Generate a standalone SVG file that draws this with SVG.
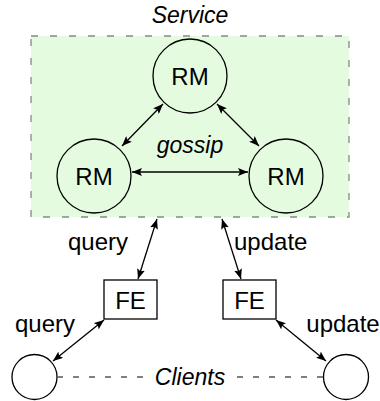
<svg xmlns="http://www.w3.org/2000/svg" width="380" height="401" viewBox="0 0 380 401">
<defs>
<marker id="ah" viewBox="0 0 10 8" refX="10" refY="4" markerWidth="10" markerHeight="8" markerUnits="userSpaceOnUse" orient="auto-start-reverse">
<path d="M0,0 L10,4 L0,8 L2,4 Z" fill="#000"/>
</marker>
</defs>
<style>
text{font-family:"Liberation Sans","DejaVu Sans",sans-serif;font-size:24px;fill:#000}
.it{font-style:italic;font-size:23px}
.n{fill:none;stroke:#000;stroke-width:1.3}
.c{stroke:#000;stroke-width:1.3;fill:none;marker-start:url(#ah);marker-end:url(#ah)}
.d{stroke:#555;stroke-width:1.3;stroke-dasharray:6,10}
</style>
<g id="service">
<rect x="31" y="36" width="318" height="181" fill="#e5fbe0" stroke="#888" stroke-width="1.3" stroke-dasharray="7,12"/>
<text class="it" x="190" y="23" text-anchor="middle">Service</text>
</g>
<g id="rm-top"><circle class="n" cx="190" cy="76" r="37"/><text x="190" y="84.5" text-anchor="middle">RM</text></g>
<g id="rm-left"><circle class="n" cx="94" cy="176" r="37"/><text x="94" y="184.5" text-anchor="middle">RM</text></g>
<g id="rm-right"><circle class="n" cx="286" cy="176" r="37"/><text x="286" y="184.5" text-anchor="middle">RM</text></g>
<g id="fe-left"><rect class="n" x="104" y="280" width="53" height="39"/><text x="130.5" y="308.5" text-anchor="middle">FE</text></g>
<g id="fe-right"><rect class="n" x="223" y="280" width="53" height="39"/><text x="249.5" y="308.5" text-anchor="middle">FE</text></g>
<g id="client-left"><circle class="n" cx="34.5" cy="377" r="22.5"/></g>
<g id="client-right"><circle class="n" cx="346" cy="377" r="22.5"/></g>
<g id="connectors">
<line class="c" x1="163" y1="104" x2="122" y2="146"/>
<line class="c" x1="217" y1="104" x2="259" y2="146"/>
<line class="c" x1="132" y1="172" x2="248" y2="172"/>
<line class="c" x1="157" y1="219" x2="138" y2="279"/>
<line class="c" x1="222" y1="219" x2="241" y2="279"/>
<line class="c" x1="104" y1="320" x2="53" y2="361"/>
<line class="c" x1="276" y1="320" x2="326" y2="361"/>
<line class="d" x1="57" y1="377" x2="147" y2="377"/>
<line class="d" x1="323" y1="377" x2="233" y2="377"/>
</g>
<g id="labels">
<text class="it" x="190" y="153" text-anchor="middle">gossip</text>
<text x="98" y="250" text-anchor="middle">query</text>
<text x="234" y="250">update</text>
<text x="45" y="332" text-anchor="middle">query</text>
<text x="343" y="332" text-anchor="middle">update</text>
<text class="it" x="190" y="385" text-anchor="middle">Clients</text>
</g>
</svg>
